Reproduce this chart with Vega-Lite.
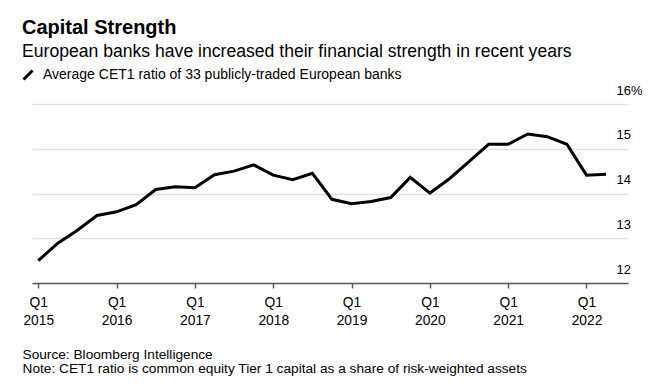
{
  "$schema": "https://vega.github.io/schema/vega-lite/v6.json",
  "width": 596,
  "height": 179,
  "autosize": "none",
  "padding": {"left": 32, "top": 104, "right": 20, "bottom": 104},
  "background": "white",
  "config": {"view": {"stroke": null}, "font": "Liberation Sans"},
  "title": {
    "text": "Capital Strength",
    "subtitle": "European banks have increased their financial strength in recent years",
    "anchor": "start",
    "frame": "group",
    "dx": -10,
    "fontSize": 20,
    "fontWeight": "bold",
    "color": "#000000",
    "subtitleFontSize": 17.6,
    "subtitleColor": "#000000",
    "subtitlePadding": 5,
    "offset": 7
  },
  "data": {
    "values": [
      {"t": 2015.0, "v": 12.50}, {"t": 2015.25, "v": 12.89}, {"t": 2015.5, "v": 13.18}, {"t": 2015.75, "v": 13.51},
      {"t": 2016.0, "v": 13.59}, {"t": 2016.25, "v": 13.75}, {"t": 2016.5, "v": 14.09}, {"t": 2016.75, "v": 14.15},
      {"t": 2017.0, "v": 14.13}, {"t": 2017.25, "v": 14.42}, {"t": 2017.5, "v": 14.50}, {"t": 2017.75, "v": 14.64},
      {"t": 2018.0, "v": 14.41}, {"t": 2018.25, "v": 14.31}, {"t": 2018.5, "v": 14.45}, {"t": 2018.75, "v": 13.87},
      {"t": 2019.0, "v": 13.77}, {"t": 2019.25, "v": 13.82}, {"t": 2019.5, "v": 13.91}, {"t": 2019.75, "v": 14.36},
      {"t": 2020.0, "v": 14.01}, {"t": 2020.25, "v": 14.33}, {"t": 2020.5, "v": 14.71}, {"t": 2020.75, "v": 15.10},
      {"t": 2021.0, "v": 15.10}, {"t": 2021.25, "v": 15.33}, {"t": 2021.5, "v": 15.27}, {"t": 2021.75, "v": 15.10},
      {"t": 2022.0, "v": 14.41}, {"t": 2022.25, "v": 14.43}
    ]
  },
  "mark": {"type": "line", "strokeWidth": 3, "strokeJoin": "miter", "strokeCap": "butt"},
  "encoding": {
    "x": {
      "field": "t",
      "type": "quantitative",
      "scale": {"domain": [2014.92, 2022.53], "nice": false, "zero": false},
      "axis": {
        "values": [2015, 2016, 2017, 2018, 2019, 2020, 2021, 2022],
        "labelExpr": "['Q1', format(datum.value, 'd')]",
        "grid": false,
        "domainColor": "#5a5a5a",
        "domainWidth": 1.5,
        "tickColor": "#5a5a5a",
        "tickWidth": 1.5,
        "tickSize": 5,
        "labelFontSize": 13.8,
        "labelColor": "#000000",
        "labelPadding": 7,
        "labelLineHeight": 18,
        "labelFlush": false,
        "labelOverlap": false,
        "title": ["Source: Bloomberg Intelligence", "Note: CET1 ratio is common equity Tier 1 capital as a share of risk-weighted assets"],
        "titleAnchor": "start",
        "titleAlign": "left",
        "titleBaseline": "alphabetic",
        "titleX": -10,
        "titleY": 75,
        "titleFontSize": 13.7,
        "titleFontWeight": "normal",
        "titleColor": "#000000",
        "titleLineHeight": 14
      }
    },
    "y": {
      "field": "v",
      "type": "quantitative",
      "scale": {"domain": [12, 16], "nice": false, "zero": false},
      "axis": {
        "orient": "right",
        "values": [12, 13, 14, 15, 16],
        "labelExpr": "datum.value == 16 ? '16%' : datum.label",
        "domain": false,
        "ticks": false,
        "tickSize": 0,
        "grid": true,
        "gridColor": "#e2e2e2",
        "gridWidth": 1.5,
        "labelAlign": "left",
        "labelBaseline": "alphabetic",
        "labelOffset": -10,
        "labelPadding": -12,
        "labelFontSize": 13,
        "labelColor": "#000000",
        "title": null
      }
    },
    "color": {
      "datum": "Average CET1 ratio of 33 publicly-traded European banks",
      "type": "nominal",
      "scale": {"range": ["#000000"]},
      "legend": {
        "orient": "none",
        "legendX": -11,
        "legendY": -36,
        "title": null,
        "symbolType": "M-1,1L1,-1",
        "symbolSize": 81,
        "symbolStrokeWidth": 3,
        "symbolStrokeColor": "#000000",
        "labelFontSize": 14,
        "labelLimit": 0,
        "labelColor": "#000000",
        "labelOffset": 8
      }
    }
  }
}
